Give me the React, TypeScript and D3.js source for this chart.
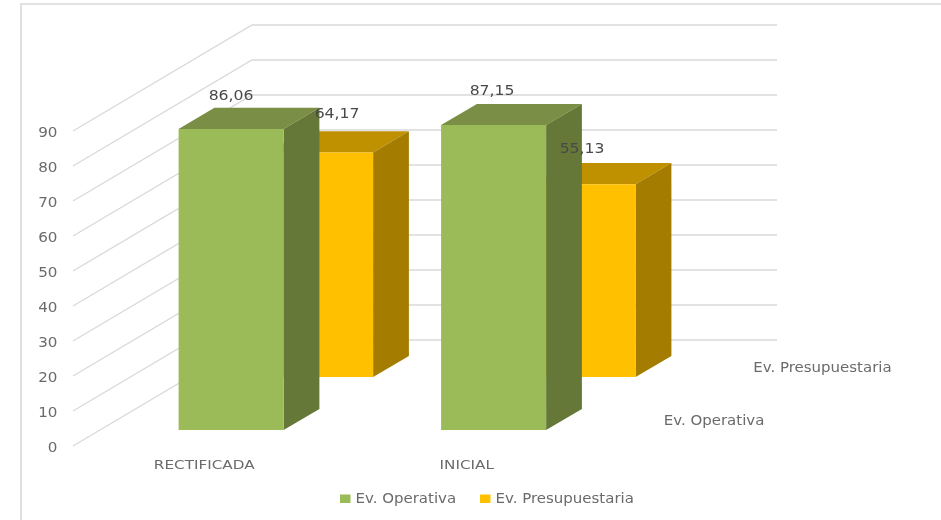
import React, { useEffect, useRef } from 'react';
import * as d3 from 'd3';

const categories = ['RECTIFICADA', 'INICIAL'];
const seriesNames = ['Ev. Operativa', 'Ev. Presupuestaria'];
const operativa = [86.06, 87.15];
const presupuestaria = [64.17, 55.13];
const yTicks = [0, 10, 20, 30, 40, 50, 60, 70, 80, 90];

const greens = { front: '#9BBB59', side: '#657837', top: '#7A8F45' };
const yellows = { front: '#FFC000', side: '#A47C00', top: '#BF9000' };

const fmt = (v: number) => v.toFixed(2).replace('.', ',');

const App: React.FC = () => {
  const svgRef = useRef<SVGSVGElement>(null);

  useEffect(() => {
    if (!svgRef.current) return;
    const svg = d3.select(svgRef.current);
    svg.selectAll('*').remove();
    const font = '"DejaVu Sans", sans-serif';

    // the reference is a slightly soft, rescaled image
    svg.append('defs').append('filter')
      .attr('id', 'soft')
      .append('feGaussianBlur')
      .attr('stdDeviation', 0.35);
    const root = svg.append('g').attr('filter', 'url(#soft)');

    // text in the reference is stretched sideways
    const addText = (px: number, py: number, str: string, size: number, fill: string, anchor: string, stretch: number) => {
      const t = root.append('text')
        .attr('x', px)
        .attr('y', py)
        .attr('text-anchor', anchor)
        .attr('font-family', font)
        .attr('font-size', size)
        .attr('fill', fill)
        .text(str);
      const w = (t.node() as SVGTextElement).getComputedTextLength();
      t.attr('textLength', w * stretch).attr('lengthAdjust', 'spacingAndGlyphs');
    };

    // outer chart frame, runs off the picture on the right and bottom
    root.append('path')
      .attr('d', 'M21,530V4H950')
      .attr('fill', 'none')
      .attr('stroke', '#d9d9d9')
      .attr('stroke-width', 1.6);

    const y = d3.scaleLinear().domain([0, 90]).range([446, 131]);
    const x = d3.scaleBand().domain(categories).range([73, 598]).paddingInner(0.6).paddingOuter(0.3);
    const depth = d3.scaleBand().domain(seriesNames).range([0, 1]).paddingInner(0.6).paddingOuter(0.3);
    const offX = d3.scaleLinear().domain([0, 1]).range([0, 179]);
    const offY = d3.scaleLinear().domain([0, 1]).range([0, -106]);

    // project (x on the front plane, value, depth 0..1) to the screen
    const pt = (px: number, v: number, d: number): [number, number] => [px + offX(d), y(v) + offY(d)];
    const line = d3.line();

    // side wall + back wall grid
    yTicks.forEach(t => {
      root.append('path')
        .attr('d', line([pt(73, t, 0), pt(73, t, 1), pt(598, t, 1)]))
        .attr('fill', 'none')
        .attr('stroke', '#d9d9d9')
        .attr('stroke-width', 1.3);
      addText(57.5, y(t) + 6, String(t), 14, '#6b6b6b', 'end', 1.08);
    });

    const face = (pts: [number, number][], fill: string) => {
      root.append('path')
        .attr('d', line(pts) + 'Z')
        .attr('fill', fill);
    };

    const drawBar = (cat: string, name: string, v: number, c: { front: string; side: string; top: string }) => {
      const x0 = x(cat)!;
      const x1 = x0 + x.bandwidth();
      const d0 = depth(name)!;
      const d1 = d0 + depth.bandwidth();
      face([pt(x0, v, d0), pt(x1, v, d0), pt(x1, v, d1), pt(x0, v, d1)], c.top);
      face([pt(x1, 0, d0), pt(x1, v, d0), pt(x1, v, d1), pt(x1, 0, d1)], c.side);
      face([pt(x0, 0, d0), pt(x1, 0, d0), pt(x1, v, d0), pt(x0, v, d0)], c.front);
    };

    categories.forEach((cat, i) => {
      drawBar(cat, seriesNames[1], presupuestaria[i], yellows);
      drawBar(cat, seriesNames[0], operativa[i], greens);
    });

    // data labels: centred on the front face, above the back edge of the top
    const label = (cat: string, name: string, v: number, dx: number, dy: number) => {
      const mid = x(cat)! + x.bandwidth() / 2;
      const [px] = pt(mid, v, depth(name)!);
      const [, py] = pt(mid, v, depth(name)! + depth.bandwidth());
      addText(px + dx, py + dy, fmt(v), 14, '#4a4a4a', 'middle', 1.12);
    };
    label(categories[0], seriesNames[0], operativa[0], 0, -8);
    label(categories[0], seriesNames[1], presupuestaria[0], 16.5, -13.7);
    label(categories[1], seriesNames[0], operativa[1], -1.5, -9);
    label(categories[1], seriesNames[1], presupuestaria[1], -1, -10);

    // category labels
    categories.forEach(cat => {
      addText(x(cat)! + x.bandwidth() / 2, 468.5, cat, 12.8, '#6b6b6b', 'middle', 1.19);
    });

    // depth axis labels
    seriesNames.forEach(name => {
      const [px, py] = pt(598, 0, depth(name)! + depth.bandwidth() / 2);
      addText(px + 21, py + 5, name, 14, '#6b6b6b', 'start', 1.07);
    });

    // legend
    const legendX = [340, 480];
    seriesNames.forEach((name, i) => {
      root.append('rect')
        .attr('x', legendX[i])
        .attr('y', 494.5)
        .attr('width', 10.5)
        .attr('height', 8.5)
        .attr('fill', i === 0 ? greens.front : yellows.front);
      addText(legendX[i] + 15.5, 503, name, 14, '#6b6b6b', 'start', 1.07);
    });
  }, []);

  return (
    <svg
      ref={svgRef}
      width={941}
      height={520}
      viewBox="0 0 941 520"
      style={{ position: 'absolute', left: 0, top: 0, background: '#fff' }}
    />
  );
};

export default App;
